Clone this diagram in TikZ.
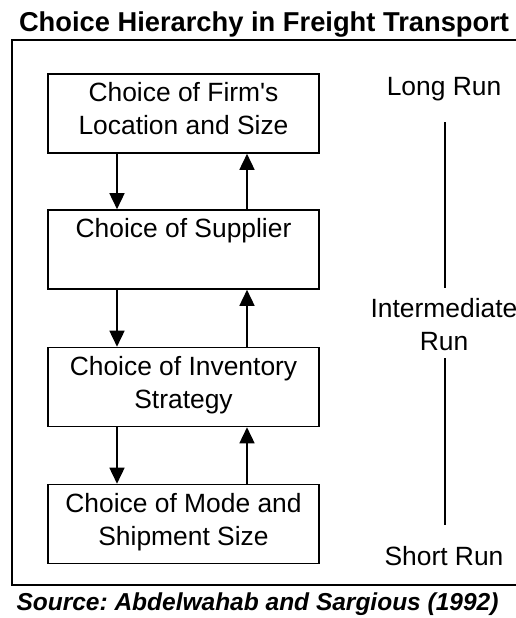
\documentclass[tikz,border=0pt]{standalone}
\usepackage{fontspec}
\setmainfont{Liberation Sans}
\usetikzlibrary{arrows.meta}
\frenchspacing

% strut for the box labels: height 21pt, depth 12pt
\newcommand\boxstrut{\rule[-12pt]{0pt}{33pt}}

\tikzset{
  choice/.style={draw, line width=1.6pt, minimum width=271pt, minimum height=79pt,
    inner sep=0pt, align=center, font=\fontsize{26.4}{33}\selectfont},
  flow/.style={line width=1.6pt, -{Triangle[width=15pt,length=16pt]}},
  runlabel/.style={inner sep=0pt, align=center, font=\fontsize{26.4}{33}\selectfont},
  runline/.style={line width=1.5pt},
  outerframe/.style={line width=1.6pt}
}

\begin{document}
\begin{tikzpicture}[x=1pt, y=-1pt]
  \useasboundingbox (0,0) rectangle (516,618);

  % title and outer frame (open on the right, running to the page edge)
  \node[anchor=base, inner sep=0pt, font=\bfseries\fontsize{27.3}{32}\selectfont]
    (title) at (264,32) {Choice Hierarchy in Freight Transport};
  \draw[outerframe] (516,40) -- (12,40) -- (12,585) -- (516,585);

  % the four decision levels
  \node[choice] (b1) at (183.5,113.5) {\boxstrut Choice of Firm\textquotesingle s\\\boxstrut Location and Size};
  \node[choice] (b2) at (183.5,249.5) {\boxstrut Choice of Supplier\\\boxstrut};
  \node[choice] (b3) at (183.5,387)   {\boxstrut Choice of Inventory\\\boxstrut Strategy};
  \node[choice] (b4) at (183.5,524)   {\boxstrut Choice of Mode and\\\boxstrut Shipment Size};

  % columns of the downward and upward arrows
  \coordinate (dn) at (117,0);
  \coordinate (up) at (247,0);

  \draw[flow] (b1.south -| dn) -- (b2.north -| dn);
  \draw[flow] (b2.north -| up) -- (b1.south -| up);
  \draw[flow] (b2.south -| dn) -- (b3.north -| dn);
  \draw[flow] (b3.north -| up) -- (b2.south -| up);
  \draw[flow] (b3.south -| dn) -- (b4.north -| dn);
  \draw[flow] (b4.north -| up) -- (b3.south -| up);

  % time scale on the right
  \node[runlabel] (long)  at (444,90.5) {\boxstrut Long Run};
  \node[runlabel] (inter) at (444,329)  {\boxstrut Intermediate\\\boxstrut Run};
  \node[runlabel] (short) at (444,560.5) {\boxstrut Short Run};

  \draw[runline] ([xshift=1pt,yshift=-15pt]long.south) -- ([xshift=1pt,yshift=8pt]inter.north);
  \draw[runline] ([xshift=1pt,yshift=4pt]inter.south) -- ([xshift=1pt,yshift=19pt]short.north);

  % source line
  \node[anchor=base, inner sep=0pt, font=\bfseries\itshape\fontsize{24.5}{30}\selectfont]
    (source) at (257.5,610) {Source: Abdelwahab and Sargious (1992)};
\end{tikzpicture}
\end{document}
